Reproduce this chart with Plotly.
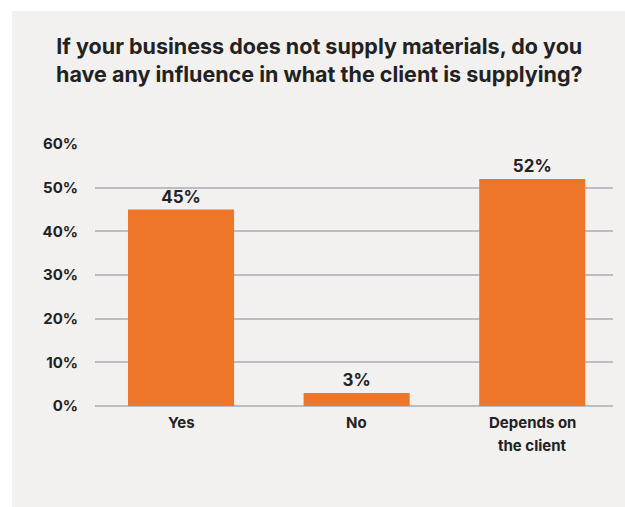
import plotly.graph_objects as go

categories = ["Yes", "No", "Depends on the client"]
category_lines = [["Yes"], ["No"], ["Depends on", "the client"]]
values = [45, 3, 52]
y_ticks = [0, 10, 20, 30, 40, 50, 60]
y_tick_labels = [f"{t}%" for t in y_ticks]

title_lines = [
    "If your business does not supply materials, do you",
    "have any influence in what the client is supplying?",
]

FONT = "Inter, 'Noto Sans', sans-serif"
TEXT = "#222222"
ORANGE = "#EE7628"
PANEL = "#F2F1EF"
GRID = "#BDBDC1"

W, H = 625, 507
ML, MR, MT, MB = 95, 12, 144, 101
plot_w = W - ML - MR
plot_h = H - MT - MB

fig = go.Figure(
    go.Bar(
        x=categories,
        y=values,
        marker=dict(color=ORANGE, line=dict(width=0)),
        text=[f"{v}%" for v in values],
        textposition="outside",
        textfont=dict(family=FONT, size=17, color=TEXT, weight="bold"),
        cliponaxis=False,
        hoverinfo="skip",
    )
)

# light panel behind everything, inset from the top/left edges
fig.add_shape(
    type="rect", xref="paper", yref="paper", layer="below",
    x0=(12 - ML) / plot_w, x1=(W - ML) / plot_w + 0.05,
    y0=-MB / plot_h - 0.05, y1=1 + (MT - 11) / plot_h,
    fillcolor=PANEL, line=dict(width=0),
)

fig.add_annotation(
    xref="paper", yref="paper",
    x=(319 - ML) / plot_w, y=1 + (MT - 31) / plot_h,
    text="<br>".join(title_lines),
    showarrow=False, align="center", xanchor="center", yanchor="top",
    font=dict(family=FONT, size=21.5, color=TEXT, weight="bold"),
)

# category labels below the bars, one annotation per text line
for cat, lines in zip(categories, category_lines):
    for i, line in enumerate(lines):
        fig.add_annotation(
            xref="x", yref="paper", x=cat, y=0,
            yshift=-(16 + 23 * i), yanchor="middle",
            text=line, showarrow=False,
            font=dict(family=FONT, size=15, color=TEXT, weight="bold"),
        )

fig.update_layout(
    width=W, height=H,
    margin=dict(l=ML, r=MR, t=MT, b=MB),
    paper_bgcolor="white",
    plot_bgcolor="rgba(0,0,0,0)",
    showlegend=False,
    bargap=0.396,
    font=dict(family=FONT, color=TEXT),
)

fig.update_xaxes(
    range=[-0.49, 2.46],
    showticklabels=False,
    showgrid=False, showline=False, ticks="", zeroline=False,
)

fig.update_yaxes(
    range=[0, 60], tickmode="array", tickvals=y_ticks, ticktext=y_tick_labels,
    tickfont=dict(family=FONT, size=15, color=TEXT, weight="bold"),
    showgrid=True, gridcolor=GRID, gridwidth=1.5,
    zeroline=True, zerolinecolor=GRID, zerolinewidth=1.5,
    showline=False, ticks="", ticklabelstandoff=16,
)

fig.write_html("out.html")
